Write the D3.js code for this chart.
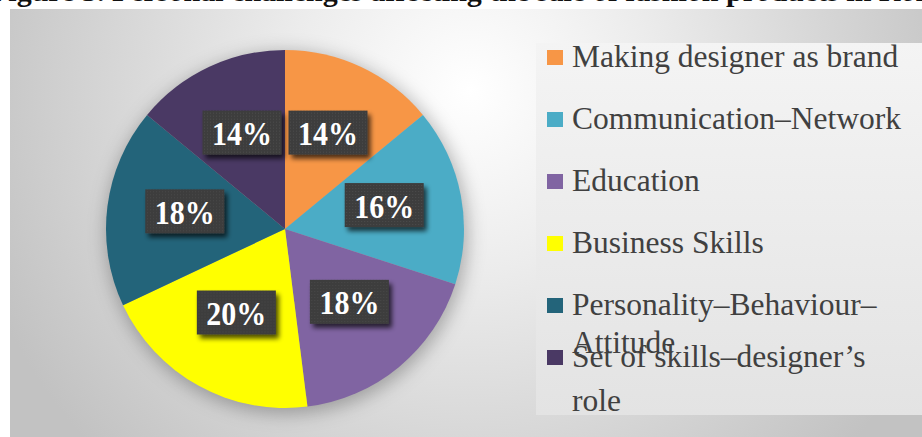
<!DOCTYPE html>
<html>
<head>
<meta charset="utf-8">
<script src="https://cdn.jsdelivr.net/npm/d3@7"></script>
<style>
  html, body { margin: 0; padding: 0; background: #ffffff; overflow: hidden; }
  svg { display: block; }
</style>
</head>
<body>
<svg id="chart" width="922" height="437"></svg>
<script>
// Personal challenges — share of responses per category
const categories = [
  "Making designer as brand",
  "Communication–Network",
  "Education",
  "Business Skills",
  "Personality–Behaviour–Attitude",
  "Set of skills–designer’s role"
];
const values = [14, 16, 18, 20, 18, 14];
const percentLabels = ["14%", "16%", "18%", "20%", "18%", "14%"];
// legend entries as they wrap inside the legend box
const legendLines = [
  ["Making designer as brand"],
  ["Communication–Network"],
  ["Education"],
  ["Business Skills"],
  ["Personality–Behaviour–", "Attitude"],
  ["Set of skills–designer’s", "role"]
];
const colors = ["#F79646", "#4BACC6", "#8064A2", "#FFFF00", "#23647A", "#4A3964"];
const titleText = "Figure 5. Personal challenges affecting the sale of fashion products in Romania";

const svg = d3.select("#chart");
const serif = "'Liberation Serif', 'Times New Roman', serif";
const defs = svg.append("defs");

// background panel gradient (light glow above the pie, grey edges)
const bg = defs.append("radialGradient").attr("id", "panelGrad")
  .attr("gradientUnits", "userSpaceOnUse")
  .attr("cx", 470).attr("cy", 90).attr("r", 520);
bg.append("stop").attr("offset", "0%").attr("stop-color", "#ffffff");
bg.append("stop").attr("offset", "35%").attr("stop-color", "#ececec");
bg.append("stop").attr("offset", "100%").attr("stop-color", "#c2c2c2");

const lg = defs.append("linearGradient").attr("id", "legendGrad")
  .attr("x1", 0).attr("y1", 0).attr("x2", 0).attr("y2", 1);
lg.append("stop").attr("offset", "0%").attr("stop-color", "#f4f4f4");
lg.append("stop").attr("offset", "100%").attr("stop-color", "#e3e3e3");

const blur = defs.append("filter").attr("id", "pieShadow")
  .attr("x", "-30%").attr("y", "-30%").attr("width", "160%").attr("height", "160%");
blur.append("feGaussianBlur").attr("stdDeviation", 9);

const boxShadow = defs.append("filter").attr("id", "boxShadow")
  .attr("x", "-30%").attr("y", "-30%").attr("width", "160%").attr("height", "170%");
boxShadow.append("feGaussianBlur").attr("in", "SourceAlpha").attr("stdDeviation", 2.5).attr("result", "b");
boxShadow.append("feOffset").attr("in", "b").attr("dx", 3).attr("dy", 4).attr("result", "o");
boxShadow.append("feComponentTransfer").attr("in", "o").attr("result", "s")
  .append("feFuncA").attr("type", "linear").attr("slope", 0.7);
const merge = boxShadow.append("feMerge");
merge.append("feMergeNode").attr("in", "s");
merge.append("feMergeNode").attr("in", "SourceGraphic");

// dotted texture for label boxes
const pat = defs.append("pattern").attr("id", "dots")
  .attr("width", 3).attr("height", 3).attr("patternUnits", "userSpaceOnUse");
pat.append("rect").attr("width", 3).attr("height", 3).attr("fill", "#3c3c3c");
pat.append("rect").attr("x", 1).attr("y", 1).attr("width", 1).attr("height", 1).attr("fill", "#4c4c4c");

// title line (partly above the visible area)
svg.append("text")
  .attr("x", -10).attr("y", 1)
  .attr("font-family", serif).attr("font-weight", "bold").attr("font-size", 30)
  .attr("fill", "#111")
  .text(titleText);

// panel
svg.append("rect").attr("x", 10).attr("y", 9).attr("width", 912).attr("height", 428)
  .attr("fill", "url(#panelGrad)");

// legend box
svg.append("rect").attr("x", 536).attr("y", 43).attr("width", 386).attr("height", 372)
  .attr("fill", "url(#legendGrad)");

// pie
const cx = 285, cy = 229, radius = 179;
const pie = d3.pie().sort(null).value(d => d);
const arcs = pie(values);
const arc = d3.arc().innerRadius(0).outerRadius(radius);
const labelArc = d3.arc().innerRadius(101).outerRadius(101);

const g = svg.append("g").attr("transform", `translate(${cx},${cy})`);
g.append("circle").attr("cx", 2).attr("cy", 4).attr("r", radius + 2)
  .attr("fill", "rgba(0,0,0,0.28)").attr("filter", "url(#pieShadow)");

g.selectAll("path.slice").data(arcs).enter().append("path")
  .attr("class", "slice")
  .attr("d", arc)
  .attr("fill", (d, i) => colors[i]);

// percentage labels in dark boxes
const boxW = 79, boxH = 44;
const lab = g.selectAll("g.lab").data(arcs).enter().append("g")
  .attr("class", "lab")
  .attr("transform", d => {
    const [x, y] = labelArc.centroid(d);
    return `translate(${x},${y - 5})`;
  });
lab.append("rect")
  .attr("x", -boxW / 2).attr("y", -boxH / 2)
  .attr("width", boxW).attr("height", boxH)
  .attr("fill", "url(#dots)")
  .attr("filter", "url(#boxShadow)");
lab.append("text")
  .attr("text-anchor", "middle")
  .attr("y", 11)
  .attr("transform", "scale(1,1.15)")
  .attr("font-family", serif).attr("font-weight", "bold").attr("font-size", 30)
  .attr("fill", "#ffffff")
  .text((d, i) => percentLabels[i]);

// legend
const legendBaselines = [67, 129, 191, 253, 315, 367];
const lineStep = [0, 0, 0, 0, 38, 44];
const leg = svg.append("g");
legendLines.forEach((lines, i) => {
  const y0 = legendBaselines[i];
  leg.append("rect")
    .attr("x", 547).attr("y", y0 - 17)
    .attr("width", 16).attr("height", 15)
    .attr("fill", colors[i]);
  lines.forEach((t, k) => {
    leg.append("text")
      .attr("x", 572).attr("y", y0 + k * lineStep[i])
      .attr("font-family", serif).attr("font-size", 31.5)
      .attr("fill", "#404040")
      .text(t);
  });
});
</script>
</body>
</html>
